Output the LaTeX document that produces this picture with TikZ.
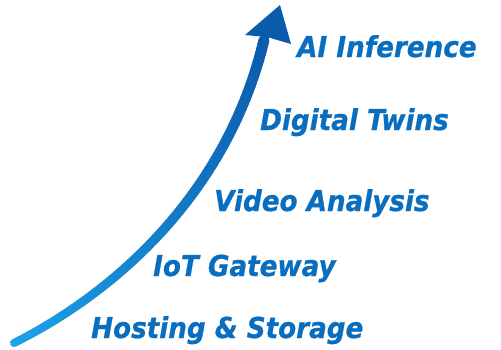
\documentclass[tikz,border=0pt]{standalone}
\usepackage{fontspec}
\newfontfamily\lblfont{DejaVu Sans}[FakeStretch=0.91,FakeBold=0.8]
\definecolor{txtblue}{HTML}{0A6EC0}
\definecolor{arrbot}{HTML}{1EA2E8}
\definecolor{arrtop}{HTML}{0A5BAC}
\tikzset{
  lbl/.style={anchor=base west, inner sep=0pt, text=txtblue,
    font=\lblfont\bfseries\itshape\fontsize{28.8}{32}\selectfont},
  headfill/.style={fill=arrtop, draw=none}
}
\begin{document}
\begin{tikzpicture}[x=1pt,y=-1pt]
\useasboundingbox (0,0) rectangle (501,349);
\coordinate (s) at (14,343);
\coordinate (c1) at (110,295);
\coordinate (c2) at (226,198);
\coordinate (e) at (264,40);
\foreach \i in {0,...,99}{
  \pgfmathsetmacro\ta{\i/100}
  \pgfmathsetmacro\tb{(\i+1)/100}
  \pgfmathsetmacro\lw{8+3*\i/100}
  \pgfmathsetmacro\pc{\i}
  \path (s) .. controls (c1) and (c2) .. (e)
     coordinate[pos=\ta] (pa) coordinate[pos=\tb] (pb);
  \draw[line width=\lw pt, color=arrtop!\pc!arrbot, line cap=round] (pa) -- (pb);
}
\coordinate (tip) at (280,5);
\coordinate (hr) at (291,44);
\coordinate (hn) at (267,37);
\coordinate (hl) at (245,35);
\fill[headfill] (tip) -- (hr) -- (hn) -- (hl) -- cycle;
\node[lbl] (ai) at (297,57) {AI Inference};
\node[lbl] (dt) at (260,130) {Digital Twins};
\node[lbl] (va) at (214,211) {Video Analysis};
\node[lbl] (iot) at (153,276) {IoT Gateway};
\node[lbl] (hs) at (91,338) {Hosting \& Storage};
\end{tikzpicture}
\end{document}
